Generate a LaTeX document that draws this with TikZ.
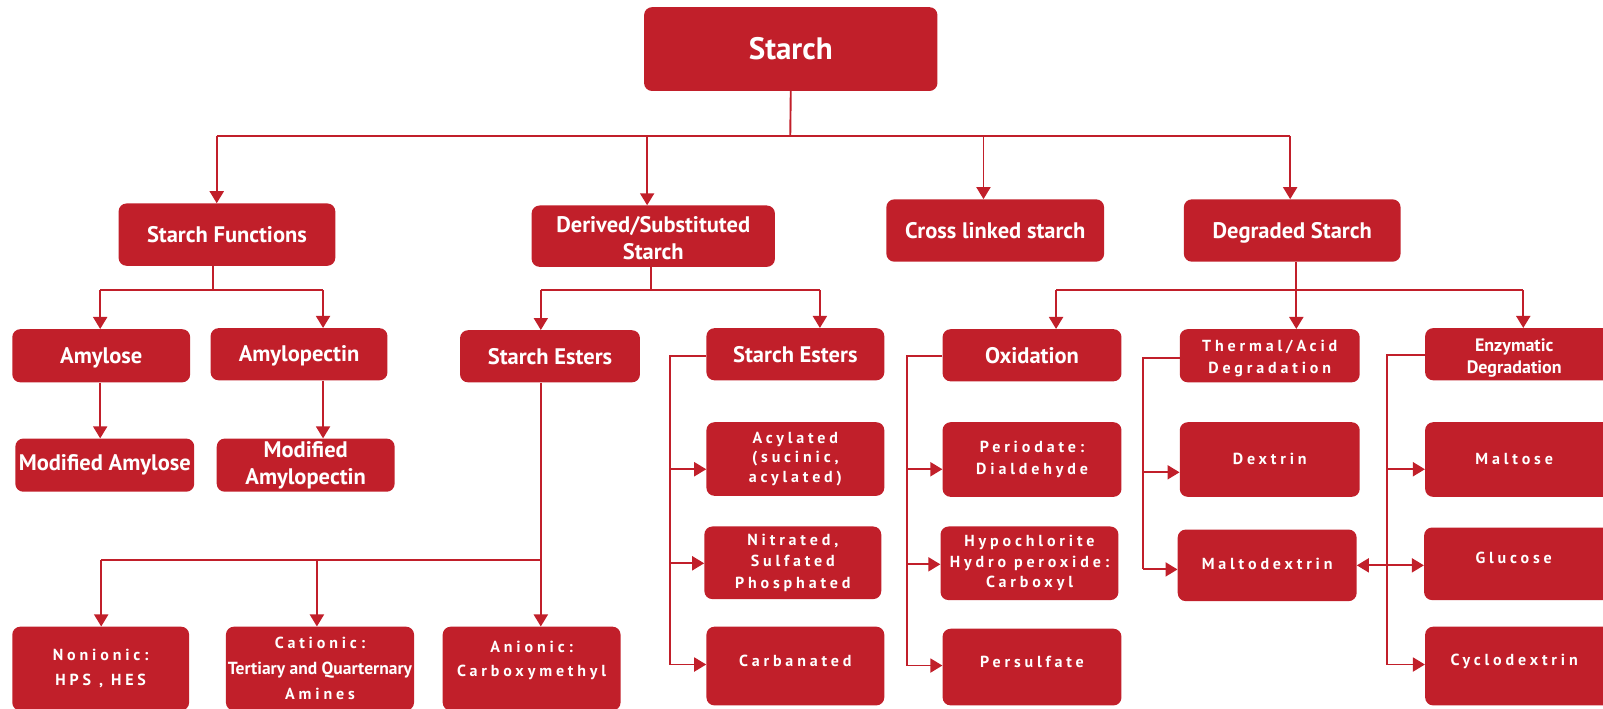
\documentclass[tikz,border=0pt]{standalone}
\usepackage{fontspec}
\setmainfont{PT Sans}
\newfontfamily\spc[LetterSpace=24]{PT Sans}
\usetikzlibrary{arrows.meta}
\definecolor{sred}{HTML}{C11F2A}
\newcommand\mvup[2]{\raisebox{#1}[\height][\depth]{#2}}
\begin{document}
\begin{tikzpicture}[x=1.0223pt,y=-1.0223pt,
  box/.style={fill=sred, rounded corners=8pt, inner sep=0pt, text=white, align=center,
    font=\bfseries\fontsize{22.5}{27}\selectfont},
  spbox/.style={box, font=\spc\bfseries\fontsize{16}{21}\selectfont},
  bx/.style n args={4}{minimum width={1.0223*(#3-#1)*1pt}, minimum height={1.0223*(#4-#2)*1pt},
    at={({(#1+#3)/2},{(#2+#4)/2})}},
  ln/.style={draw=sred, line width=1.9pt},
  arr/.style={ln, -{Triangle[width=14pt,length=12pt]}},
  dbl/.style={ln, {Triangle[width=14pt,length=12pt]}-{Triangle[width=14pt,length=12pt]}},
]
\useasboundingbox (0,0) rectangle (1568,693);
\clip (0,0) rectangle (1568,693);

% level 0
\node[box, bx={630}{7}{917}{89}, font=\bfseries\fontsize{31}{34}\selectfont] (starch) {Starch};
% level 1
\node[box, bx={116}{199}{328}{260}] (sf) {Starch Functions};
\node[box, bx={520}{201}{758}{261}] (der) {\mvup{-2pt}{Derived/Substituted}\\\mvup{-2pt}{Starch}};
\node[box, bx={867}{195}{1080}{256}] (cross) {Cross linked starch};
\node[box, bx={1158}{195}{1370}{256}] (deg) {\mvup{-2pt}{Degraded Starch}};
% level 2
\node[box, bx={12}{322}{186}{374}] (amy) {\mvup{-2pt}{Amylose}};
\node[box, bx={206}{321}{379}{372}] (amp) {\mvup{-2pt}{Amylopectin}};
\node[box, bx={15}{429}{190}{481}] (mamy) {Modified Amylose};
\node[box, bx={212}{429}{386}{481}] (mamp) {Modified\\Amylopectin};
\node[box, bx={450}{323}{626}{374}] (seL) {Starch Esters};
\node[box, bx={691}{321}{865}{372}] (seR) {Starch Esters};
\node[box, bx={922}{322}{1097}{373}] (oxi) {Oxidation};
\node[spbox, bx={1154}{322}{1330}{374}, font=\spc\bfseries\fontsize{16}{22}\selectfont] (therm) {\mvup{-3pt}{Thermal/Acid}\\\mvup{-3pt}{Degradation}};
\node[box, bx={1394}{321}{1580}{372}, font=\bfseries\fontsize{18}{21.5}\selectfont] (enz) {\hspace*{-12pt}\mvup{-4pt}{Enzymatic}\\\hspace*{-12pt}\mvup{-4pt}{Degradation}};
% bottom-left
\node[spbox, bx={12}{613}{185}{695}, font=\spc\bfseries\fontsize{16}{25.5}\selectfont] (non) {Nonionic:\\HPS , HES};
\node[spbox, bx={221}{613}{405}{695}, font=\spc\bfseries\fontsize{16}{25.5}\selectfont] (cat)
  {Cationic:\\{\normalfont\bfseries\fontsize{17.5}{25.5}\selectfont\makebox[0pt]{Tertiary and Quarternary}}\\Amines};
\node[spbox, bx={433}{613}{607}{695}, font=\spc\bfseries\fontsize{16}{23.5}\selectfont] (ani) {\mvup{8pt}{Anionic:}\\\mvup{8pt}{Carboxymethyl}};
% esters column
\node[spbox, bx={691}{413}{865}{485}, font=\spc\bfseries\fontsize{16}{19.5}\selectfont] (acy) {Acylated\\(sucinic,\\acylated)};
\node[spbox, bx={689}{515}{862}{586}, font=\spc\bfseries\fontsize{16}{21.5}\selectfont] (nit) {Nitrated,\\Sulfated\\Phosphated};
\node[spbox, bx={691}{613}{865}{690}] (carb) {\mvup{5pt}{Carbanated}};
% oxidation column
\node[spbox, bx={922}{413}{1097}{486}, font=\spc\bfseries\fontsize{16}{22}\selectfont] (per) {Periodate:\\Dialdehyde};
\node[spbox, bx={920}{515}{1094}{587}, font=\spc\bfseries\fontsize{16}{20.5}\selectfont] (hyp) {Hypochlorite\\Hydro peroxide:\\Carboxyl};
\node[spbox, bx={922}{615}{1097}{690}] (pers) {\mvup{5pt}{Persulfate}};
% thermal column
\node[spbox, bx={1154}{413}{1330}{486}] (dex) {\mvup{1pt}{Dextrin}};
\node[spbox, bx={1152}{518}{1327}{588}] (malto) {\mvup{1pt}{Maltodextrin}};
% enzymatic column
\node[spbox, bx={1394}{413}{1580}{486}] (maltose) {\hspace*{-12pt}\mvup{1pt}{Maltose}};
\node[spbox, bx={1393}{516}{1580}{587}] (glu) {\hspace*{-12pt}\mvup{6pt}{Glucose}};
\node[spbox, bx={1394}{613}{1580}{690}] (cyc) {\hspace*{-12pt}\mvup{5pt}{Cyclodextrin}};

% connectors: starch
\draw[ln] (starch.south) -- (773,133);
\draw[ln] (212,133) -- (1262,133);
\draw[arr] (212,133) -- (212,0 |- sf.north);
\draw[arr] (633,133) -- (633,0 |- der.north);
\draw[arr] (962,133) -- (962,0 |- cross.north);
\draw[arr] (1262,133) -- (1262,0 |- deg.north);
% starch functions
\draw[ln] (208,0 |- sf.south) -- (208,284);
\draw[ln] (98,284) -- (316,284);
\draw[arr] (98,284) -- (98,0 |- amy.north);
\draw[arr] (316,284) -- (316,0 |- amp.north);
\draw[arr] (98,0 |- amy.south) -- (98,0 |- mamy.north);
\draw[arr] (316,0 |- amp.south) -- (316,0 |- mamp.north);
% derived
\draw[ln] (637,0 |- der.south) -- (637,284);
\draw[ln] (529,284) -- (802,284);
\draw[arr] (529,284) -- (529,0 |- seL.north);
\draw[arr] (802,284) -- (802,0 |- seR.north);
\draw[ln] (529,0 |- seL.south) -- (529,548);
\draw[ln] (99,548) -- (529,548);
\draw[arr] (99,548) -- (99,0 |- non.north);
\draw[arr] (310,548) -- (310,0 |- cat.north);
\draw[arr] (529,548) -- (529,0 |- ani.north);
\draw[ln] (seR.west |- 0,348) -- (655,348) -- (655,650);
\draw[arr] (655,459) -- (acy.west |- 0,459);
\draw[arr] (655,551) -- (nit.west |- 0,551);
\draw[arr] (655,650) -- (carb.west |- 0,650);
% degraded
\draw[ln] (1268,0 |- deg.south) -- (1268,284);
\draw[ln] (1033,284) -- (1490,284);
\draw[arr] (1033,284) -- (1033,0 |- oxi.north);
\draw[arr] (1268,284) -- (1268,0 |- therm.north);
\draw[arr] (1490,284) -- (1490,0 |- enz.north);
\draw[ln] (oxi.west |- 0,348) -- (887,348) -- (887,651);
\draw[arr] (887,459) -- (per.west |- 0,459);
\draw[arr] (887,552) -- (hyp.west |- 0,552);
\draw[arr] (887,651) -- (pers.west |- 0,651);
\draw[ln] (therm.west |- 0,350) -- (1118,350) -- (1118,557);
\draw[arr] (1118,462) -- (dex.west |- 0,462);
\draw[arr] (1118,557) -- (malto.west |- 0,557);
\draw[ln] (enz.west |- 0,347) -- (1357,347) -- (1357,650);
\draw[arr] (1357,459) -- (maltose.west |- 0,459);
\draw[arr] (1357,650) -- (cyc.west |- 0,650);
\draw[dbl] (malto.east |- 0,553) -- (glu.west |- 0,553);
\end{tikzpicture}
\end{document}
